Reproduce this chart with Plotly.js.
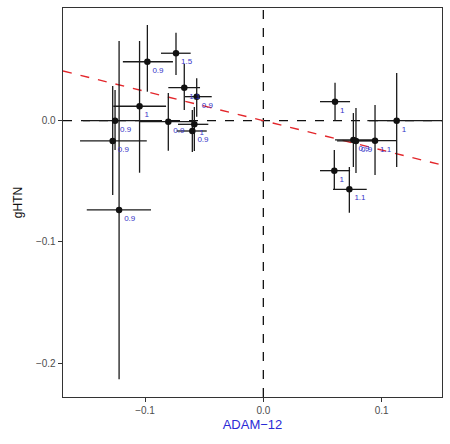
<!DOCTYPE html>
<html>
<head>
<meta charset="utf-8">
<script src="https://cdn.plot.ly/plotly-3.0.1.min.js"></script>
<style>
  html, body { margin: 0; padding: 0; background: #fff; }
  #chart { width: 450px; height: 444px; }
</style>
</head>
<body>
<div id="chart"></div>
<script>
// Per-study estimates: ADAM-12 effect (x) vs gHTN effect (y), with 95% intervals
const adam   = [-0.0980, -0.0738, -0.0668, -0.0563, -0.1046, -0.1253, -0.1273, -0.1219, -0.0803, -0.0583, -0.0600,
                 0.0606,  0.1127,  0.0761,  0.0783,  0.0944,  0.0600,  0.0727];
const adamLo = [-0.1187, -0.0865, -0.0803, -0.0662, -0.1268, -0.1524, -0.1549, -0.1492, -0.1042, -0.0721, -0.0732,
                 0.0479,  0.0879,  0.0606,  0.0623,  0.0761,  0.0479,  0.0589];
const adamHi = [-0.0764, -0.0614, -0.0535, -0.0436, -0.0822, -0.0873, -0.0985, -0.0949, -0.0603, -0.0465, -0.0478,
                 0.0733,  0.1508,  0.0944,  0.0919,  0.1127,  0.0733,  0.0874];
const ghtn   = [ 0.0486,  0.0556,  0.0272,  0.0198,  0.0119,  0.0000, -0.0167, -0.0736, -0.0008, -0.0030, -0.0085,
                 0.0157,  0.0000, -0.0159, -0.0167, -0.0165, -0.0412, -0.0566];
const ghtnLo = [ 0.0239,  0.0377,  0.0088,  0.0033, -0.0429, -0.0242, -0.0613, -0.2132, -0.0247, -0.0250, -0.0258,
                 0.0000, -0.0382, -0.0382, -0.0431, -0.0448, -0.0571, -0.0758];
const ghtnHi = [ 0.0789,  0.0725,  0.0467,  0.0350,  0.0657,  0.0253,  0.0286,  0.0657,  0.0228,  0.0113,  0.0088,
                 0.0313,  0.0393,  0.0063,  0.0105,  0.0129, -0.0242, -0.0382];
const ratio  = ['0.9', '1.5', '1.1', '0.9', '1', '0.9', '0.9', '0.9', '0.9', '1', '0.9',
                '1', '1', '0.9', '0.9', '1.1', '1', '1.1'];

// Fitted regression line (through the origin)
const fitSlope = -0.242;
const fitIntercept = 0.0;

const xRange = [-0.1693, 0.1510];
const yRange = [-0.2278, 0.0929];

const errX = {
  type: 'data', symmetric: false,
  array: adam.map((v, i) => adamHi[i] - v),
  arrayminus: adam.map((v, i) => v - adamLo[i]),
  color: '#1a1a1a', thickness: 1.3, width: 0
};
const errY = {
  type: 'data', symmetric: false,
  array: ghtn.map((v, i) => ghtnHi[i] - v),
  arrayminus: ghtn.map((v, i) => v - ghtnLo[i]),
  color: '#1a1a1a', thickness: 1.3, width: 0
};

const fitX = [xRange[0], xRange[1]];
const fitY = fitX.map(x => fitIntercept + fitSlope * x);

const traces = [
  {
    x: fitX, y: fitY, mode: 'lines', type: 'scatter',
    line: { color: '#e3262b', width: 1.4, dash: 'dash' },
    hoverinfo: 'skip', showlegend: false
  },
  {
    x: adam, y: ghtn, type: 'scatter', mode: 'markers+text',
    text: ratio, textposition: 'bottom right',
    textfont: { family: 'Liberation Sans, Arial, sans-serif', size: 8, color: '#3535c8' },
    marker: { color: '#111', size: 6.5 },
    error_x: errX, error_y: errY,
    showlegend: false
  }
];

const axisCommon = {
  showline: true, mirror: true, linecolor: '#333', linewidth: 1.3,
  ticks: 'outside', ticklen: 4, tickwidth: 1, tickcolor: '#333',
  showgrid: false, zeroline: false,
  tickfont: { family: 'Liberation Sans, Arial, sans-serif', size: 10, color: '#4d4d4d' },
  tickformat: '.1f'
};

const layout = {
  width: 450, height: 444,
  margin: { l: 63, r: 8, t: 8, b: 47 },
  paper_bgcolor: '#fff', plot_bgcolor: '#fff',
  showlegend: false,
  xaxis: Object.assign({}, axisCommon, {
    range: xRange, tickvals: [-0.1, 0, 0.1],
    title: { text: 'ADAM−12', font: { family: 'Liberation Sans, Arial, sans-serif', size: 13, color: '#2a2ad6' }, standoff: 4 }
  }),
  yaxis: Object.assign({}, axisCommon, {
    range: yRange, tickvals: [-0.2, -0.1, 0],
    title: { text: 'gHTN', font: { family: 'Liberation Sans, Arial, sans-serif', size: 12, color: '#111' }, standoff: 10 }
  }),
  shapes: [
    { type: 'line', xref: 'x', yref: 'paper', x0: 0, x1: 0, y0: 0, y1: 1,
      line: { color: '#111', width: 1.3, dash: 'dash' }, layer: 'below' },
    { type: 'line', xref: 'paper', yref: 'y', x0: 0, x1: 1, y0: 0, y1: 0,
      line: { color: '#111', width: 1.3, dash: 'dash' }, layer: 'below' }
  ]
};

Plotly.newPlot('chart', traces, layout, { staticPlot: true, displayModeBar: false });
</script>
</body>
</html>
